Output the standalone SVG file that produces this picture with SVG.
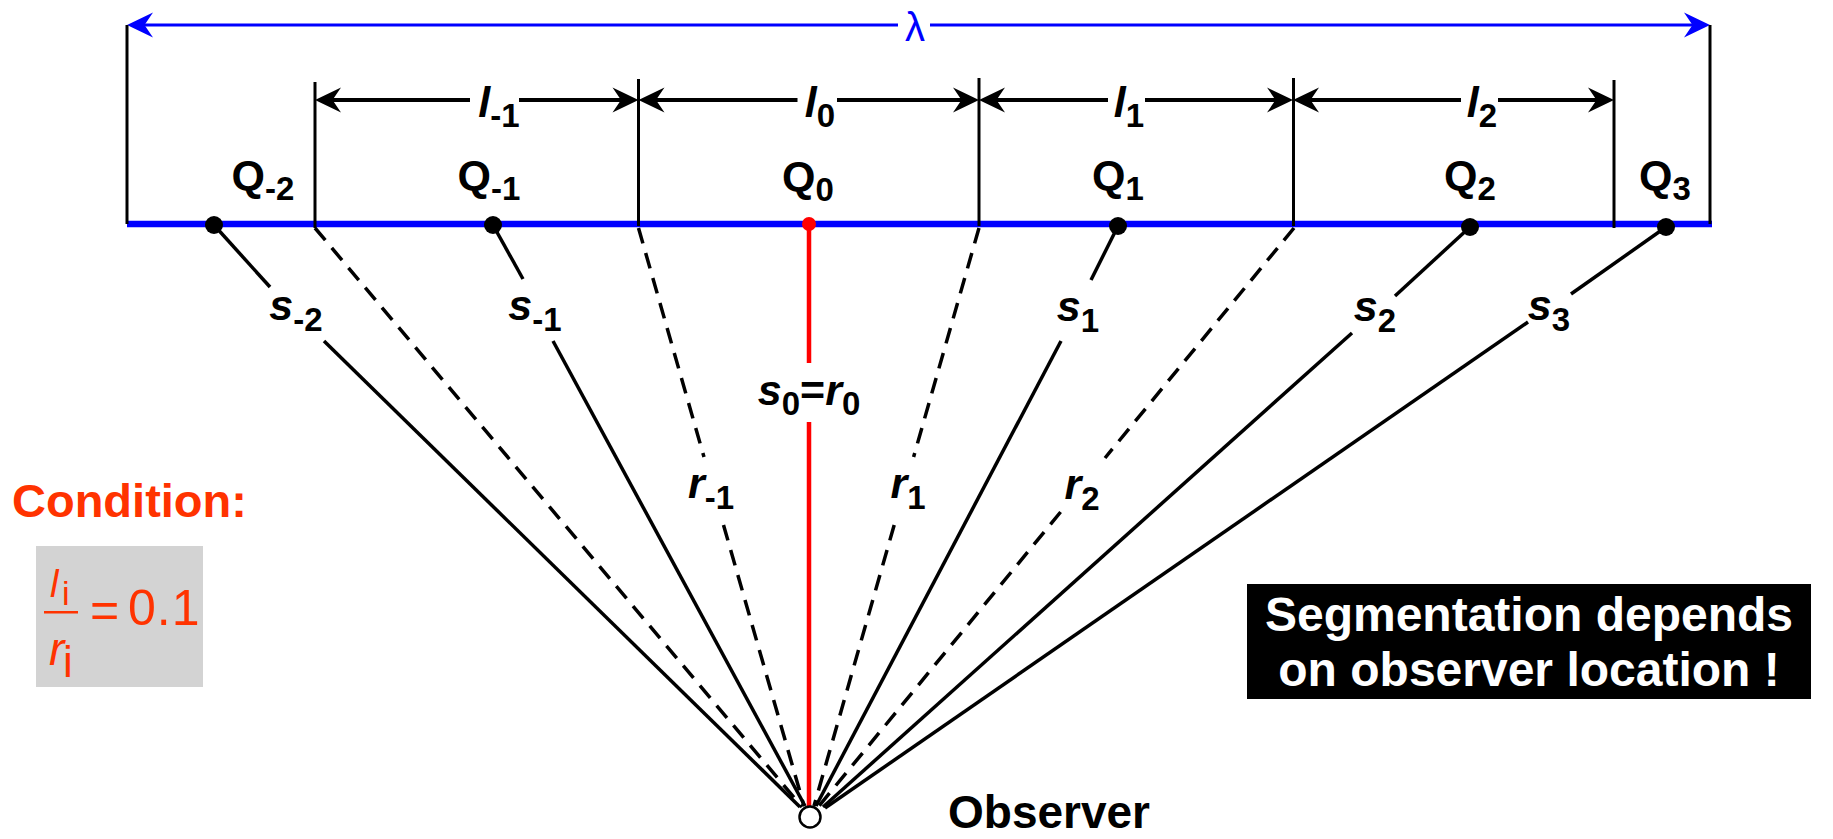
<svg xmlns="http://www.w3.org/2000/svg" width="1833" height="839" viewBox="0 0 1833 839">
<style>
  .lbl { font-family: "Liberation Sans", Arial, sans-serif; font-weight: bold; font-size: 43px; fill: #000; text-anchor: middle; }
  .it { font-style: italic; }
  .sub { font-size: 33px; font-style: normal; }
  .dim { stroke: #000; stroke-width: 4; fill: none; }
  .lam { stroke: #0000FF; stroke-width: 3; fill: none; }
  .tick { stroke: #000; stroke-width: 3; fill: none; }
  .ray { stroke: #000; stroke-width: 3.5; fill: none; }
  .dash { stroke-dasharray: 16 10; }
  .red { stroke: #FF0000; stroke-width: 4.5; fill: none; }
  .cond { fill: #FF3300; font-family: "Liberation Sans", Arial, sans-serif; }
  .note { fill: #FFFFFF; font-family: "Liberation Sans", Arial, sans-serif; font-weight: bold; font-size: 48px; text-anchor: middle; }
</style>
<defs>
  <marker id="ah" viewBox="-20 -15 35 30" refX="0" refY="0" markerWidth="35" markerHeight="30" markerUnits="userSpaceOnUse" orient="auto-start-reverse">
    <path d="M10,0 L-16,-12.5 L-7.5,0 L-16,12.5 Z" fill="#000"/>
  </marker>
  <marker id="ahb" viewBox="-20 -15 35 30" refX="0" refY="0" markerWidth="35" markerHeight="30" markerUnits="userSpaceOnUse" orient="auto-start-reverse">
    <path d="M10,0 L-16,-12.5 L-7.5,0 L-16,12.5 Z" fill="#0000FF"/>
  </marker>
</defs>

<!-- connectors: rays to observer and dimension arrows -->
<g id="connectors">
  <line class="ray dash" x1="315" y1="228" x2="802" y2="807"/>
  <line class="ray dash" x1="638.5" y1="228" x2="704" y2="457"/>
  <line class="ray dash" x1="723.5" y1="525" x2="804" y2="806"/>
  <line class="ray dash" x1="979" y1="228" x2="913.6" y2="457"/>
  <line class="ray dash" x1="894.2" y1="525" x2="814" y2="806"/>
  <line class="ray dash" x1="1294" y1="228" x2="1105" y2="458"/>
  <line class="ray dash" x1="1060.6" y1="512" x2="819" y2="806"/>
  <line class="ray" x1="214" y1="225" x2="270" y2="287"/>
  <line class="ray" x1="324" y1="341" x2="800" y2="807"/>
  <line class="ray" x1="493" y1="225" x2="523" y2="279"/>
  <line class="ray" x1="553" y1="341" x2="805" y2="806"/>
  <line class="ray" x1="1118" y1="226" x2="1091" y2="280"/>
  <line class="ray" x1="1061" y1="341" x2="816" y2="806"/>
  <line class="ray" x1="1470" y1="227" x2="1395" y2="296"/>
  <line class="ray" x1="1352" y1="333" x2="823" y2="807"/>
  <line class="ray" x1="1666" y1="227" x2="1571" y2="294"/>
  <line class="ray" x1="1528" y1="322" x2="825" y2="808"/>
  <line class="red" x1="809" y1="224" x2="809" y2="363"/>
  <line class="red" x1="809" y1="422" x2="809" y2="808"/>
  <line class="lam" x1="137" y1="25" x2="898" y2="25" marker-start="url(#ahb)"/>
  <line class="lam" x1="930" y1="25" x2="1700" y2="25" marker-end="url(#ahb)"/>
  <line class="dim" x1="325" y1="100" x2="470" y2="100" marker-start="url(#ah)"/>
  <line class="dim" x1="519" y1="100" x2="628.5" y2="100" marker-end="url(#ah)"/>
  <line class="dim" x1="648.5" y1="100" x2="797.5" y2="100" marker-start="url(#ah)"/>
  <line class="dim" x1="837" y1="100" x2="969" y2="100" marker-end="url(#ah)"/>
  <line class="dim" x1="989" y1="100" x2="1108" y2="100" marker-start="url(#ah)"/>
  <line class="dim" x1="1145" y1="100" x2="1283" y2="100" marker-end="url(#ah)"/>
  <line class="dim" x1="1303" y1="100" x2="1461" y2="100" marker-start="url(#ah)"/>
  <line class="dim" x1="1498" y1="100" x2="1604" y2="100" marker-end="url(#ah)"/>
</g>

<g id="wave">
  <line x1="127" y1="224" x2="1712" y2="224" stroke="#0000FF" stroke-width="6.5"/>
  <line class="tick" x1="127" y1="25" x2="127" y2="224"/>
  <line class="tick" x1="1710" y1="25" x2="1710" y2="224"/>
  <line class="tick" x1="315" y1="82" x2="315" y2="228"/>
  <line class="tick" x1="638.5" y1="79" x2="638.5" y2="226"/>
  <line class="tick" x1="979" y1="78" x2="979" y2="226"/>
  <line class="tick" x1="1293.5" y1="78" x2="1293.5" y2="226"/>
  <line class="tick" x1="1614" y1="80" x2="1614" y2="228"/>
  <text class="lbl" x="915" y="41" style="font-weight:normal;font-size:40px;fill:#0000FF">λ</text>
  <text class="lbl it" x="499" y="117">l<tspan class="sub" dy="10">-1</tspan></text>
  <text class="lbl it" x="820" y="117">l<tspan class="sub" dy="10">0</tspan></text>
  <text class="lbl it" x="1129" y="117">l<tspan class="sub" dy="10">1</tspan></text>
  <text class="lbl it" x="1482" y="117">l<tspan class="sub" dy="10">2</tspan></text>
</g>

<g id="Qm2">
  <circle cx="214" cy="225" r="9"/>
  <text class="lbl" x="263" y="190">Q<tspan class="sub" dy="10">-2</tspan></text>
  <text class="lbl it" x="296" y="320">s<tspan class="sub" dy="11">-2</tspan></text>
</g>
<g id="Qm1">
  <circle cx="493" cy="225" r="9"/>
  <text class="lbl" x="489" y="190">Q<tspan class="sub" dy="10">-1</tspan></text>
  <text class="lbl it" x="535" y="320">s<tspan class="sub" dy="11">-1</tspan></text>
  <text class="lbl it" x="711" y="498">r<tspan class="sub" dy="11">-1</tspan></text>
</g>
<g id="Q0">
  <circle cx="809" cy="224" r="7" fill="#FF0000"/>
  <text class="lbl" x="808" y="191">Q<tspan class="sub" dy="10">0</tspan></text>
  <text class="lbl it" x="809" y="405">s<tspan class="sub" dy="10">0</tspan><tspan dy="-10" style="font-style:normal">=</tspan>r<tspan class="sub" dy="10">0</tspan></text>
</g>
<g id="Q1">
  <circle cx="1118" cy="226" r="9"/>
  <text class="lbl" x="1118" y="190">Q<tspan class="sub" dy="10">1</tspan></text>
  <text class="lbl it" x="1078" y="321">s<tspan class="sub" dy="11">1</tspan></text>
  <text class="lbl it" x="908" y="498">r<tspan class="sub" dy="11">1</tspan></text>
</g>
<g id="Q2">
  <circle cx="1470" cy="227" r="9"/>
  <text class="lbl" x="1470" y="190">Q<tspan class="sub" dy="10">2</tspan></text>
  <text class="lbl it" x="1375" y="321">s<tspan class="sub" dy="11">2</tspan></text>
  <text class="lbl it" x="1082" y="499">r<tspan class="sub" dy="11">2</tspan></text>
</g>
<g id="Q3">
  <circle cx="1666" cy="227" r="9"/>
  <text class="lbl" x="1665" y="190">Q<tspan class="sub" dy="10">3</tspan></text>
  <text class="lbl it" x="1549" y="320">s<tspan class="sub" dy="11">3</tspan></text>
</g>

<g id="observer">
  <circle cx="810" cy="817" r="10.5" fill="#FFFFFF" stroke="#000" stroke-width="2.5"/>
  <text x="948" y="828" font-family="Liberation Sans, Arial, sans-serif" font-weight="bold" font-size="46">Observer</text>
</g>

<g id="condition">
  <text class="cond" x="12" y="517" font-weight="bold" font-size="47">Condition:</text>
  <rect x="36" y="546" width="167" height="141" fill="#D3D3D3"/>
  <text class="cond" x="50" y="597" font-style="italic" font-size="38">l</text>
  <text class="cond" x="62" y="605" font-size="34">i</text>
  <rect x="44" y="611" width="34" height="2.5" fill="#FF3300"/>
  <text class="cond" x="49" y="665" font-style="italic" font-size="46">r</text>
  <text class="cond" x="63" y="677" font-size="44">i</text>
  <text class="cond" x="90" y="627" font-size="50">=</text>
  <text class="cond" x="128" y="625" font-size="50" letter-spacing="1">0.1</text>
</g>

<g id="note">
  <rect x="1247" y="584" width="564" height="115" fill="#000"/>
  <text class="note" x="1529" y="631">Segmentation depends</text>
  <text class="note" x="1529" y="686">on observer location !</text>
</g>
</svg>
